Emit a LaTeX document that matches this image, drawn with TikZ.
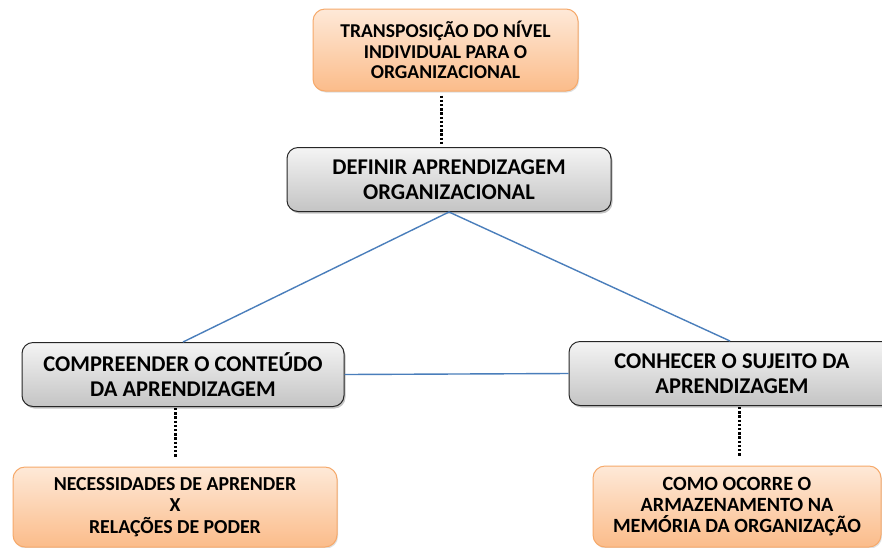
\documentclass[tikz,border=0pt]{standalone}
\usepackage{fontspec}
\setmainfont{Carlito}
\usetikzlibrary{shadows,calc}
\definecolor{orgtop}{HTML}{FEE9D8}
\definecolor{orgbot}{HTML}{FBBC8A}
\definecolor{orgline}{HTML}{F6A96A}
\definecolor{grtop}{HTML}{F4F4F4}
\definecolor{grbot}{HTML}{C4C4C4}
\definecolor{blueline}{HTML}{4A7EBB}
\tikzset{
  orangebox/.style={draw=orgline, line width=1pt, rounded corners=12pt,
    top color=orgtop, bottom color=orgbot, align=center, inner sep=0pt,
    font=\fontsize{19.6}{20.8}\selectfont\bfseries,
    drop shadow={shadow xshift=1pt, shadow yshift=-1.5pt, opacity=0.25}},
  greybox/.style={draw=black!85, line width=1pt, rounded corners=11pt,
    top color=grtop, bottom color=grbot, align=center, inner sep=0pt,
    font=\fontsize{22.5}{24.5}\selectfont\bfseries,
    drop shadow={shadow xshift=1.5pt, shadow yshift=-2pt, opacity=0.45}},
  dotline/.style={line width=3pt, dash pattern=on 2.4pt off 1.8pt},
  blueconn/.style={draw=blueline, line width=1.4pt}
}
\begin{document}
\begin{tikzpicture}[x=1pt,y=-1pt]
\fill[white] (0,0) rectangle (882,547);
\useasboundingbox (0,0) rectangle (882,547);
\clip (0,0) rectangle (882,547);
\node[orangebox, minimum width=265pt, minimum height=82pt] (top) at (445.5,50)
  {TRANSPOSIÇÃO DO NÍVEL\\INDIVIDUAL PARA O\\ORGANIZACIONAL};
\node[greybox, minimum width=324pt, minimum height=64pt] (def) at (449,179.5)
  {DEFINIR APRENDIZAGEM\\ORGANIZACIONAL};
\node[greybox, minimum width=322pt, minimum height=64pt] (left) at (183,374.5)
  {COMPREENDER O CONTEÚDO\\DA APRENDIZAGEM};
\node[greybox, minimum width=326pt, minimum height=64pt] (right) at (732,373.5)
  {CONHECER O SUJEITO DA\\APRENDIZAGEM};
\node[orangebox, minimum width=324pt, minimum height=80pt,
  font=\fontsize{19.8}{21.5}\selectfont\bfseries] (bl) at (175,507)
  {NECESSIDADES DE APRENDER\\X\\RELAÇÕES DE PODER};
\node[orangebox, minimum width=288pt, minimum height=81pt,
  font=\fontsize{20.2}{20.8}\selectfont\bfseries] (br) at (737,506.5)
  {COMO OCORRE O\\ARMAZENAMENTO NA\\MEMÓRIA DA ORGANIZAÇÃO};
\coordinate (xa) at (441,0);
\coordinate (xb) at (175,0);
\coordinate (xc) at (739,0);
\draw[dotline, shorten <=4pt, shorten >=2pt] (top.south -| xa) -- (def.north -| xa);
\draw[dotline, shorten <=1pt, shorten >=9pt] (left.south -| xb) -- (bl.north -| xb);
\draw[dotline, shorten <=1pt, shorten >=10pt] (right.south -| xc) -- (br.north -| xc);
\draw[blueconn] (def.south) -- (left.north);
\draw[blueconn] (def.south) -- ($(right.north)+(-2,0)$);
\draw[blueconn] (left.east) -- (right.west);
\end{tikzpicture}
\end{document}
